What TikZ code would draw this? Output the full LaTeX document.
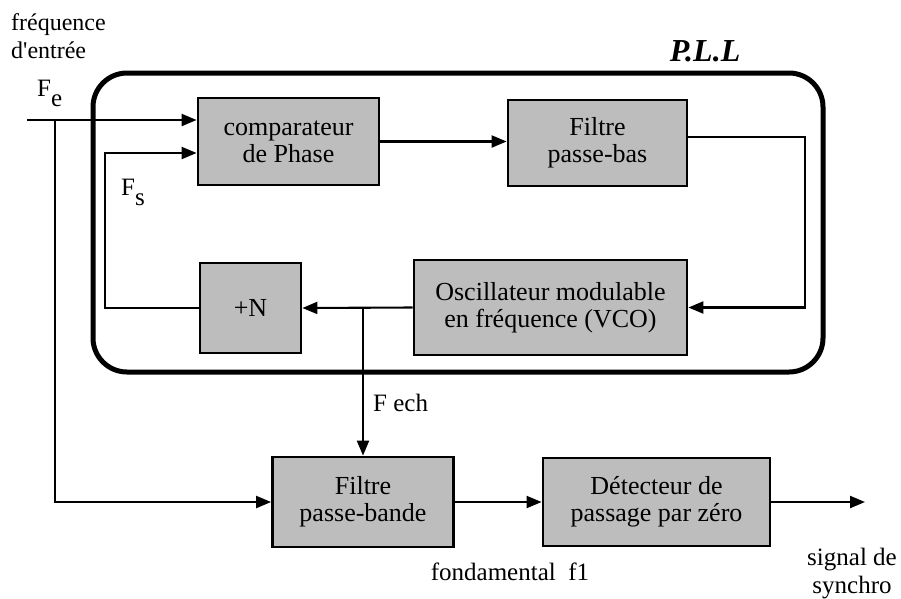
\documentclass[tikz,border=0pt]{standalone}
\usepackage{fontspec}
\setmainfont{Liberation Serif}[Ligatures=TeXOff]
\usetikzlibrary{arrows.meta}
\begin{document}
\begin{tikzpicture}[x=1pt,y=-1pt,
  blk/.style={draw=black, line width=2.8pt, fill=black!26, align=center, inner sep=0pt,
    font=\fontsize{26}{27}\selectfont},
  conn/.style={line width=2.1pt},
  arr/.style={conn, -{Triangle[length=15pt,width=12pt]}},
  lbl/.style={font=\fontsize{25}{28}\selectfont, inner sep=0pt}]
\useasboundingbox (0,0) rectangle (901,598);
% PLL frame
\draw[line width=5pt, rounded corners=34pt] (93,73) rectangle (823,372);
\node[lbl, font=\fontsize{32}{34}\selectfont\bfseries\itshape] (pll) at (705,51) {P.L.L};
% blocks
\node[blk, minimum width=181pt, minimum height=87pt] (comp) at (288.5,141.5) {comparateur\\de Phase};
\node[blk, minimum width=179pt, minimum height=86pt] (fbas) at (597.5,143) {Filtre\\passe-bas};
\node[blk, minimum width=273pt, minimum height=95pt] (vco) at (550.5,307.5) {Oscillateur modulable\\en fréquence (VCO)};
\node[blk, minimum width=101pt, minimum height=90pt] (ndiv) at (250.5,308) {+N};
\node[blk, minimum width=181pt, minimum height=90pt] (fpb) at (363,502) {Filtre\\passe-bande};
\node[blk, minimum width=227pt, minimum height=88pt] (det) at (656.5,502) {Détecteur de\\passage par zéro};
% coordinates
\coordinate (fein) at (27,120);
\coordinate (fej) at (55,120);
\coordinate (fs) at (105,153);
\coordinate (rt) at (805,137);
\coordinate (jv) at (fpb.north |- vco.west);
\coordinate (out) at (865,502);
% connectors
\draw[arr] (fein) -- (fein -| comp.west);
\draw[arr] (fej) |- (fpb.west);
\draw[arr] (ndiv.west) -| (fs) -- (fs -| comp.west);
\draw[arr] (comp.east) -- (comp.east -| fbas.west);
\draw[arr] (rt -| fbas.east) -- (rt) |- (vco.east);
\draw[arr] (vco.west) -- (ndiv.east);
\draw[arr] (jv) -- (fpb.north);
\draw[arr] (fpb.east) -- (det.west);
\draw[arr] (det.east) -- (out);
% labels
\node[lbl, font=\fontsize{24}{28}\selectfont, anchor=west, align=left] (fin) at (11,36) {fréquence\\d'entrée};
\node[lbl, anchor=base west] (fel) at (37,96) {F\raisebox{-10pt}{e}};
\node[lbl, anchor=base west] (fsl) at (121,195) {F\raisebox{-10pt}{s}};
\node[lbl, anchor=west] (fech) at (373,403) {F ech};
\node[lbl] (fond) at (510,572) {fondamental\ \ f1};
\node[lbl, align=center] (sync) at (852,574) {signal de\\synchro};
\end{tikzpicture}
\end{document}
